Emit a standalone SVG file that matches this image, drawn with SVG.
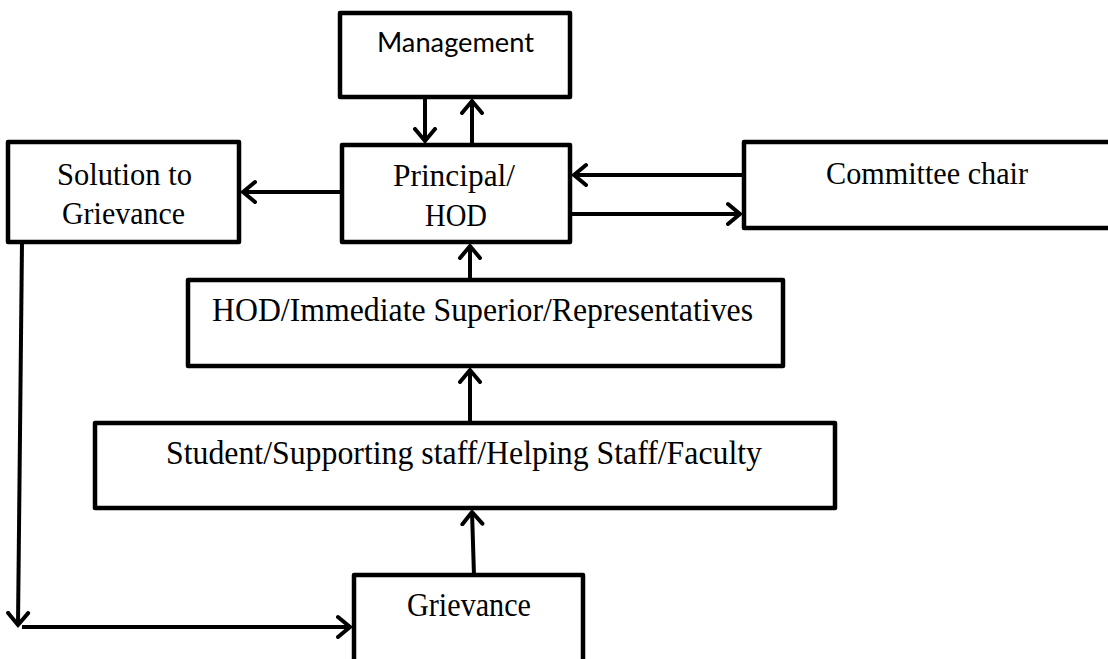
<svg xmlns="http://www.w3.org/2000/svg" width="1108" height="659" viewBox="0 0 1108 659">
<style>
.box{fill:#fff;stroke:#000;stroke-width:4.5;stroke-linejoin:round}
.serif{font-family:"Liberation Serif","DejaVu Serif",serif;font-size:31px;fill:#000}
.big{font-size:34px}
.sans{font-family:Lato,"Liberation Sans",sans-serif;font-size:27px;fill:#000}
.conn line{stroke:#000;stroke-width:4;fill:none}
</style>
<defs>
<marker id="arr" markerUnits="userSpaceOnUse" markerWidth="30" markerHeight="30" refX="14" refY="12" orient="auto" viewBox="0 0 30 24">
<polyline points="2,2 14,12 2,22" fill="none" stroke="#000" stroke-width="4" stroke-linecap="round" stroke-linejoin="miter"/>
</marker>
</defs>
<rect width="1108" height="659" fill="#fff"/>
<g id="management"><rect class="box" x="340" y="13" width="230" height="84"/><text class="sans" x="377" y="52" textLength="157" lengthAdjust="spacingAndGlyphs">Management</text></g>
<g id="principal"><rect class="box" x="342" y="145" width="228" height="97"/><text class="serif" x="393" y="186" textLength="122" lengthAdjust="spacingAndGlyphs">Principal/</text><text class="serif" x="425" y="226" textLength="62" lengthAdjust="spacingAndGlyphs">HOD</text></g>
<g id="solution"><rect class="box" x="8" y="142" width="231" height="100"/><text class="serif" x="57" y="185" textLength="135" lengthAdjust="spacingAndGlyphs">Solution to</text><text class="serif" x="62" y="224" textLength="123" lengthAdjust="spacingAndGlyphs">Grievance</text></g>
<g id="committee"><rect class="box" x="744" y="142" width="370" height="86"/><text class="serif" x="826" y="184" textLength="202" lengthAdjust="spacingAndGlyphs">Committee chair</text></g>
<g id="hod"><rect class="box" x="188" y="280" width="595" height="86"/><text class="serif big" x="212" y="321" textLength="541" lengthAdjust="spacingAndGlyphs">HOD/Immediate Superior/Representatives</text></g>
<g id="student"><rect class="box" x="95" y="423" width="740" height="85"/><text class="serif big" x="166" y="464" textLength="596" lengthAdjust="spacingAndGlyphs">Student/Supporting staff/Helping Staff/Faculty</text></g>
<g id="grievance"><rect class="box" x="354" y="575" width="229" height="95"/><text class="serif big" x="407" y="616" textLength="124" lengthAdjust="spacingAndGlyphs">Grievance</text></g>
<g id="connectors" class="conn">
<line x1="425" y1="97" x2="425" y2="141" marker-end="url(#arr)"/>
<line x1="472" y1="145" x2="472" y2="101" marker-end="url(#arr)"/>
<line x1="342" y1="192" x2="243" y2="192" marker-end="url(#arr)"/>
<line x1="744" y1="175" x2="574" y2="175" marker-end="url(#arr)"/>
<line x1="570" y1="214" x2="740" y2="214" marker-end="url(#arr)"/>
<line x1="470" y1="280" x2="470" y2="246" marker-end="url(#arr)"/>
<line x1="470" y1="423" x2="470" y2="370" marker-end="url(#arr)"/>
<line x1="474" y1="575" x2="472" y2="512" marker-end="url(#arr)"/>
<line x1="22" y1="242" x2="18" y2="625" marker-end="url(#arr)"/>
<line x1="22" y1="627" x2="350" y2="627" marker-end="url(#arr)"/>
</g>
</svg>
